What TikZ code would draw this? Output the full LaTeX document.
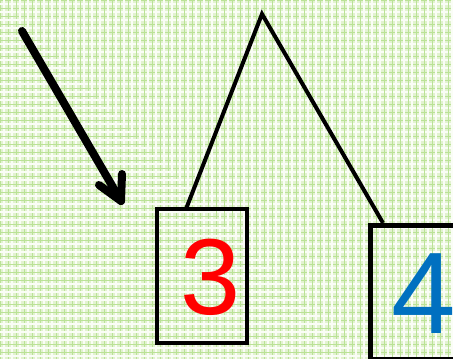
\documentclass[tikz,border=0pt]{standalone}
\usepackage{fontspec}
\setmainfont{Liberation Sans}
\definecolor{bgbase}{RGB}{226,242,208}
\definecolor{bgline}{RGB}{186,226,150}
\definecolor{bgwhite}{RGB}{250,253,246}
\definecolor{digred}{RGB}{255,0,0}
\definecolor{digblue}{RGB}{0,112,192}
\tikzset{
  boxstyle/.style={draw=black,line width=4.5pt,rectangle,inner sep=0pt},
  linkline/.style={draw=black,line width=4pt,line join=miter},
  bigarrow/.style={draw=black,line width=8pt,line cap=round,line join=round},
  digit/.style={inner sep=0pt,font=\fontsize{#1}{#1}\selectfont}
}
\begin{document}
\begin{tikzpicture}[x=1pt,y=-1pt]
\useasboundingbox (0,0) rectangle (453,359);
\clip (0,0) rectangle (453,359);
\fill[bgbase] (0,0) rectangle (453,359);
\foreach \k in {0,8,...,456} {
  \draw[bgline,line width=1pt] (\k,0) -- (\k,359);
  \draw[bgline,line width=1pt] (0,\k) -- (453,\k);
  \draw[bgwhite,line width=1.2pt] (\k+4,0) -- (\k+4,359);
  \draw[bgwhite,line width=1.2pt] (0,\k+4) -- (453,\k+4);
}
% boxes
\node[boxstyle,minimum width=90pt,minimum height=134pt] (box3) at (202,276) {};
\node[boxstyle,minimum width=110pt,minimum height=134pt,anchor=north west] (box4) at (368,223) {};
% digits
\node[digit=108pt,text=digred] (d3) at (211,277) {3};
\node[digit=116pt,text=digblue,anchor=west] (d4) at (391,294) {4};
% apex lines
\coordinate (apex) at (262,14);
\coordinate (p3) at (186,209);
\coordinate (p4) at (383,223);
\draw[linkline] (p3) -- (apex) -- (p4);
% arrow
\coordinate (astart) at (22,31);
\coordinate (atip) at (121,201);
\coordinate (barbA) at (99,185);
\coordinate (barbB) at (122,174);
\draw[bigarrow] (astart) -- (atip);
\draw[bigarrow] (barbA) -- (atip) -- (barbB);
\end{tikzpicture}
\end{document}
